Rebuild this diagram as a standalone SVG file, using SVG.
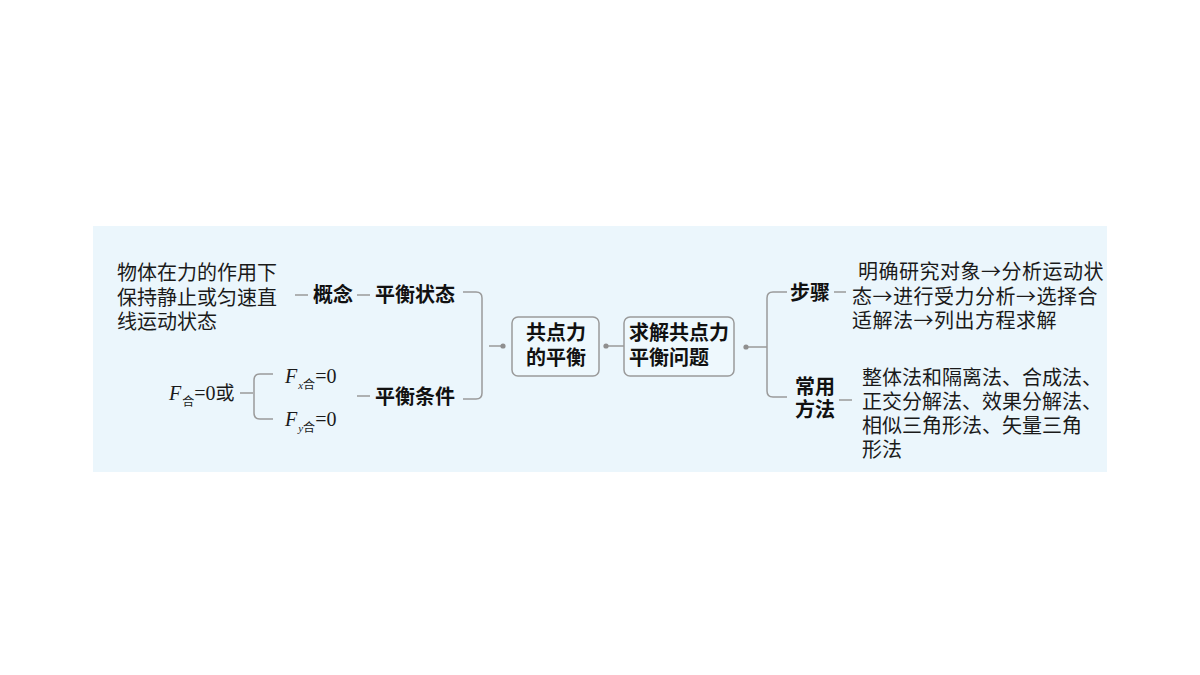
<svg xmlns="http://www.w3.org/2000/svg" width="1200" height="675" viewBox="0 0 1200 675">
<style>
.ln{fill:none;stroke:#9a9a9a;stroke-width:1.5}
.dot{fill:#8f8f8f}
.bx{fill:#eef8fd;stroke:#9a9a9a;stroke-width:1.5}
.t{font-family:"Noto Sans CJK SC","Noto Sans",sans-serif;font-size:20px;fill:#1a1a1a}
.b{font-family:"Noto Sans CJK SC","Noto Sans",sans-serif;font-size:20px;font-weight:bold;fill:#111}
.f{font-family:"Liberation Serif","Noto Sans CJK SC",serif;font-size:20px;fill:#1a1a1a}
.s{font-family:"Noto Sans CJK SC",sans-serif;font-size:12px}
</style>
<rect x="0" y="0" width="1200" height="675" fill="#ffffff"/>
<rect x="93" y="226" width="1014" height="246" fill="#ebf6fc"/>

<g id="connectors">
  <path class="ln" d="M295 295H308"/>
  <path class="ln" d="M357 295H370"/>
  <path class="ln" d="M357 396H370"/>
  <path class="ln" d="M463 292H476Q482 292 482 298V393Q482 399 476 399H463"/>
  <path class="ln" d="M489 346H503"/>
  <circle class="dot" cx="503" cy="346" r="2.6"/>
  <path class="ln" d="M606 346H624"/>
  <circle class="dot" cx="606" cy="346" r="2.6"/>
  <path class="ln" d="M746 347H767"/>
  <circle class="dot" cx="746" cy="347" r="2.6"/>
  <path class="ln" d="M787 292H773Q767 292 767 298V391Q767 397 773 397H787"/>
  <path class="ln" d="M834 292H846"/>
  <path class="ln" d="M839 400H852"/>
  <path class="ln" d="M240 393H253"/>
  <path class="ln" d="M273 374H260Q254 374 254 380V413Q254 419 260 419H273"/>
</g>

<g id="concept-desc">
  <text class="t"><tspan x="117" y="280">物体在力的作用下</tspan><tspan x="117" y="305">保持静止或匀速直</tspan><tspan x="117" y="329">线运动状态</tspan></text>
</g>
<g id="concept"><text class="b" x="313" y="302">概念</text></g>
<g id="state"><text class="b" x="375" y="302">平衡状态</text></g>
<g id="condition"><text class="b" x="375" y="404">平衡条件</text></g>
<g id="fsum">
  <text class="f" x="169" y="400"><tspan font-style="italic">F</tspan><tspan class="s" dx="1" dy="6">合</tspan><tspan dy="-6">=0</tspan><tspan font-family="Noto Sans CJK SC" font-size="19px">或</tspan></text>
</g>
<g id="fx">
  <text class="f" x="285" y="383"><tspan font-style="italic">F</tspan><tspan font-style="italic" font-size="11px" dx="1" dy="6">x</tspan><tspan class="s" dy="0">合</tspan><tspan dy="-6">=0</tspan></text>
</g>
<g id="fy">
  <text class="f" x="285" y="426"><tspan font-style="italic">F</tspan><tspan font-style="italic" font-size="11px" dx="1" dy="6">y</tspan><tspan class="s" dy="0">合</tspan><tspan dy="-6">=0</tspan></text>
</g>

<g id="node-equilibrium">
  <rect class="bx" x="512" y="317" width="87" height="59" rx="6"/>
  <text class="b" text-anchor="middle"><tspan x="556" y="340">共点力</tspan><tspan x="556" y="365">的平衡</tspan></text>
</g>
<g id="node-solve">
  <rect class="bx" x="624" y="317" width="110" height="59" rx="6"/>
  <text class="b"><tspan x="629" y="340">求解共点力</tspan><tspan x="629" y="365">平衡问题</tspan></text>
</g>

<g id="steps"><text class="b" x="790" y="300">步骤</text></g>
<g id="steps-desc">
  <text class="t" letter-spacing="0.5"><tspan x="858" y="279">明确研究对象→分析运动状</tspan><tspan x="852" y="304">态→进行受力分析→选择合</tspan><tspan x="852" y="328">适解法→列出方程求解</tspan></text>
</g>
<g id="methods">
  <text class="b"><tspan x="795" y="394">常用</tspan><tspan x="795" y="417">方法</tspan></text>
</g>
<g id="methods-desc">
  <text class="t"><tspan x="862" y="385">整体法和隔离法、合成法、</tspan><tspan x="862" y="409">正交分解法、效果分解法、</tspan><tspan x="862" y="433">相似三角形法、矢量三角</tspan><tspan x="862" y="457">形法</tspan></text>
</g>
</svg>
